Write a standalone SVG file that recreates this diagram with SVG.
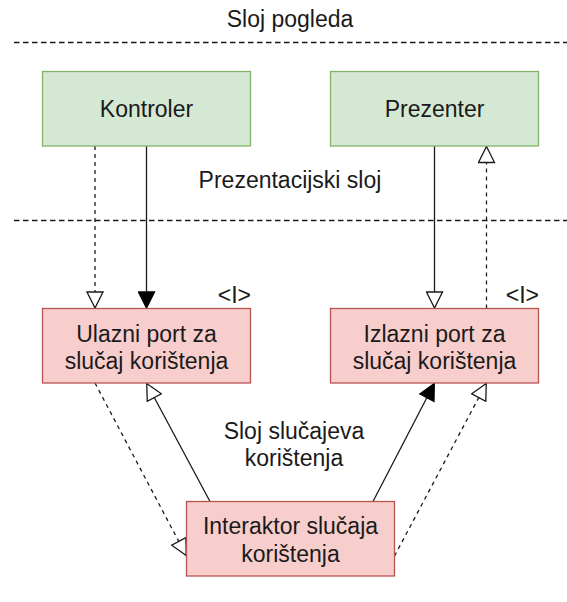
<svg xmlns="http://www.w3.org/2000/svg" width="567" height="602" viewBox="0 0 567 602">
<style>
text{font-family:"Liberation Sans",Arial,sans-serif;font-size:23px;fill:#1a1a1a;text-anchor:middle}
.green{fill:#d5e8d4;stroke:#82b366;stroke-width:1.3}
.red{fill:#f8cecc;stroke:#b85450;stroke-width:1.3}
.layer{stroke:#1a1a1a;stroke-width:1.3;stroke-dasharray:5.5 3.5;fill:none}
.c{stroke:#1a1a1a;stroke-width:1.3;fill:none}
.d{stroke-dasharray:4 4}
.iface{text-anchor:end}
</style>
<defs>
<marker id="open" markerUnits="userSpaceOnUse" viewBox="0 0 19 18" markerWidth="19" markerHeight="18" refX="17.5" refY="9" orient="auto">
<path d="M1,1 L17,9 L1,17 Z" fill="#fff" stroke="#1a1a1a" stroke-width="1.3"/>
</marker>
<marker id="filled" markerUnits="userSpaceOnUse" viewBox="0 0 19 18" markerWidth="19" markerHeight="18" refX="17.5" refY="9" orient="auto">
<path d="M1,1 L17,9 L1,17 Z" fill="#000" stroke="#000" stroke-width="1.3"/>
</marker>
</defs>

<g id="layers">
<line class="layer" x1="14" y1="42.5" x2="567" y2="42.5"/>
<line class="layer" x1="14" y1="220.5" x2="567" y2="220.5"/>
<text x="290" y="27">Sloj pogleda</text>
<text x="290" y="188">Prezentacijski sloj</text>
<text x="294" y="439">Sloj slučajeva</text>
<text x="294" y="466">korištenja</text>
</g>

<g id="connectors">
<line class="c d" x1="95" y1="146" x2="95" y2="308.5" marker-end="url(#open)"/>
<line class="c" x1="146.5" y1="146" x2="146.5" y2="308.5" marker-end="url(#filled)"/>
<line class="c" x1="434.5" y1="146" x2="434.5" y2="308.5" marker-end="url(#open)"/>
<line class="c d" x1="486.5" y1="308.5" x2="486.5" y2="146" marker-end="url(#open)"/>
<line class="c d" x1="95" y1="383" x2="186.5" y2="556" marker-end="url(#open)"/>
<line class="c" x1="210" y1="501.5" x2="146.5" y2="383" marker-end="url(#open)"/>
<line class="c" x1="373" y1="501.5" x2="434.5" y2="383" marker-end="url(#filled)"/>
<line class="c d" x1="394.5" y1="556" x2="486.5" y2="383" marker-end="url(#open)"/>
</g>

<g id="kontroler">
<rect class="green" x="42.5" y="71.5" width="208" height="74.5"/>
<text x="146.5" y="117">Kontroler</text>
</g>
<g id="prezenter">
<rect class="green" x="330.5" y="71.5" width="208" height="74.5"/>
<text x="434.5" y="117">Prezenter</text>
</g>
<g id="ulazni">
<rect class="red" x="42.5" y="308.5" width="208" height="74.5"/>
<text x="146.5" y="341.5">Ulazni port za</text>
<text x="146.5" y="369">slučaj korištenja</text>
<text class="iface" x="251" y="303">&lt;I&gt;</text>
</g>
<g id="izlazni">
<rect class="red" x="330.5" y="308.5" width="208" height="74.5"/>
<text x="434.5" y="341.5">Izlazni port za</text>
<text x="434.5" y="369">slučaj korištenja</text>
<text class="iface" x="539" y="303">&lt;I&gt;</text>
</g>
<g id="interaktor">
<rect class="red" x="186.5" y="501.5" width="208" height="74.5"/>
<text x="290.5" y="534">Interaktor slučaja</text>
<text x="290.5" y="561.5">korištenja</text>
</g>
</svg>
